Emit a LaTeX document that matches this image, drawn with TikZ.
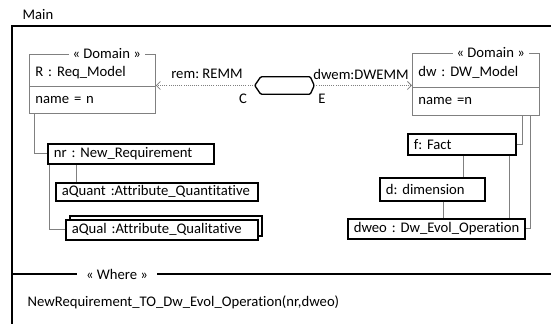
\documentclass[tikz,border=0pt]{standalone}
\usepackage{fontspec}
\setmainfont{Carlito}[Ligatures={NoCommon}]
\usetikzlibrary{arrows.meta}
\frenchspacing
\begin{document}
\begin{tikzpicture}[x=0.75pt,y=-0.75pt,
  font=\fontsize{11}{13}\selectfont,
  objbox/.style n args={2}{draw=black, line width=1.2pt, fill=white,
    minimum width=#1*0.75pt, minimum height=#2*0.75pt,
    text width=#1*0.75pt-9pt, align=left, inner xsep=4.5pt, inner ysep=0pt,
    anchor=north west},
  dombox/.style n args={2}{draw=gray, line width=0.6pt,
    minimum width=#1*0.75pt, minimum height=#2*0.75pt,
    text width=#1*0.75pt-9pt, align=left, inner xsep=4.5pt, inner ysep=0pt,
    anchor=north west},
  headrow/.style={text height=12pt, text depth=2.5pt},
  link/.style={draw=gray, line width=0.6pt},
  titletext/.style={fill=white, inner xsep=3pt, inner ysep=1pt},
  framestyle/.style={line width=1.4pt, black},
  dep/.style={gray, densely dotted, line width=0.6pt, -{Straight Barb[length=3pt,width=6pt]}},
  lbl/.style={inner sep=1pt}
]
\useasboundingbox (0,0) rectangle (551,324);
\clip (0,0) rectangle (551,324);

% frame
\node[lbl, anchor=west] (main) at (21,15) {Main};
\draw[framestyle] (560,26) -- (12,26) -- (12,330);
\draw[framestyle] (12,274) -- (560,274);
\node[titletext, inner xsep=7pt] (where) at (117,274) {« Where »};
\node[lbl, anchor=west] (cond) at (26,302) {NewRequirement\_TO\_Dw\_Evol\_Operation(nr,dweo)};

% domain boxes
\node[dombox={126}{32}, headrow] (Rhead) at (29,54) {R : Req\_Model};
\node[dombox={126}{27}] (Rattr) at (29,86) {name = n};
\node[titletext, anchor=east] (Rtitle) at ([xshift=-8pt]Rhead.north east) {« Domain »};

\node[dombox={127}{34}, headrow] (dwhead) at (412,53) {dw : DW\_Model};
\node[dombox={127}{28}] (dwattr) at (412,87) {name =n};
\node[titletext, anchor=east] (dwtitle) at ([xshift=-8pt]dwhead.north east) {« Domain »};

% hexagon
\node[minimum width=59*0.75pt, minimum height=17*0.75pt, inner sep=0pt] (hex) at (284.5,85.5) {};
\draw[black, line width=1pt, rounded corners=0.8pt] (hex.west) -- ([xshift=4.5pt]hex.north west) -- ([xshift=-3pt]hex.north east) -- (hex.east) -- ([xshift=-3pt]hex.south east) -- ([xshift=4.5pt]hex.south west) -- cycle;

\draw[dep] (hex.west) -- (hex.west -| Rattr.east);
\draw[dep] (hex.east) -- (hex.east -| dwattr.west);
\node[lbl] (remlbl) at (207,74) {rem: REMM};
\node[lbl] (clbl) at (243,99) {C};
\node[lbl] (dwemlbl) at (361,74) {dwem:DWEMM};
\node[lbl] (elbl) at (322,99) {E};

% left objects
\node[objbox={166}{20}] (nr) at (47,143) {\mbox{nr : New\_Requirement}};
\node[objbox={202}{18}] (aQuant) at (55,182) {\mbox{aQuant :Attribute\_Quantitative}};
\node[objbox={192}{20}] (aQualback) at (69,215) {};
\node[objbox={192}{20}] (aQual) at (65,219) {\mbox{aQual :Attribute\_Qualitative}};

% right objects
\node[objbox={108}{21}] (f) at (407,133) {\mbox{f: Fact}};
\node[objbox={105}{23}] (d) at (379,177) {\mbox{d: dimension}};
\node[objbox={177}{20}] (dweo) at (347,218) {\mbox{dweo : Dw\_Evol\_Operation}};

% connectors left
\draw[link] ([xshift=3.75pt]Rattr.south west) |- (nr.west);
\draw[link] ([xshift=15.75pt]aQuant.north west) -- ([xshift=15.75pt]aQuant.north west |- nr.south);
\draw[link] ([xshift=1.5pt]nr.south west) |- (aQual.west);

% connectors right
\draw[link] ([xshift=-12.75pt]dwattr.south east) |- (f.east);
\draw[link] ([xshift=-6.75pt]dwattr.south east) |- (dweo.east);
\draw[link] ([xshift=63pt]d.north west) -- ([xshift=63pt]d.north west |- f.south);
\draw[link] ([xshift=-5.25pt]f.south east) -- ([xshift=-5.25pt]f.south east |- dweo.north);
\draw[link] ([xshift=48pt]d.south west) -- ([xshift=48pt]d.south west |- dweo.north);
\end{tikzpicture}
\end{document}
